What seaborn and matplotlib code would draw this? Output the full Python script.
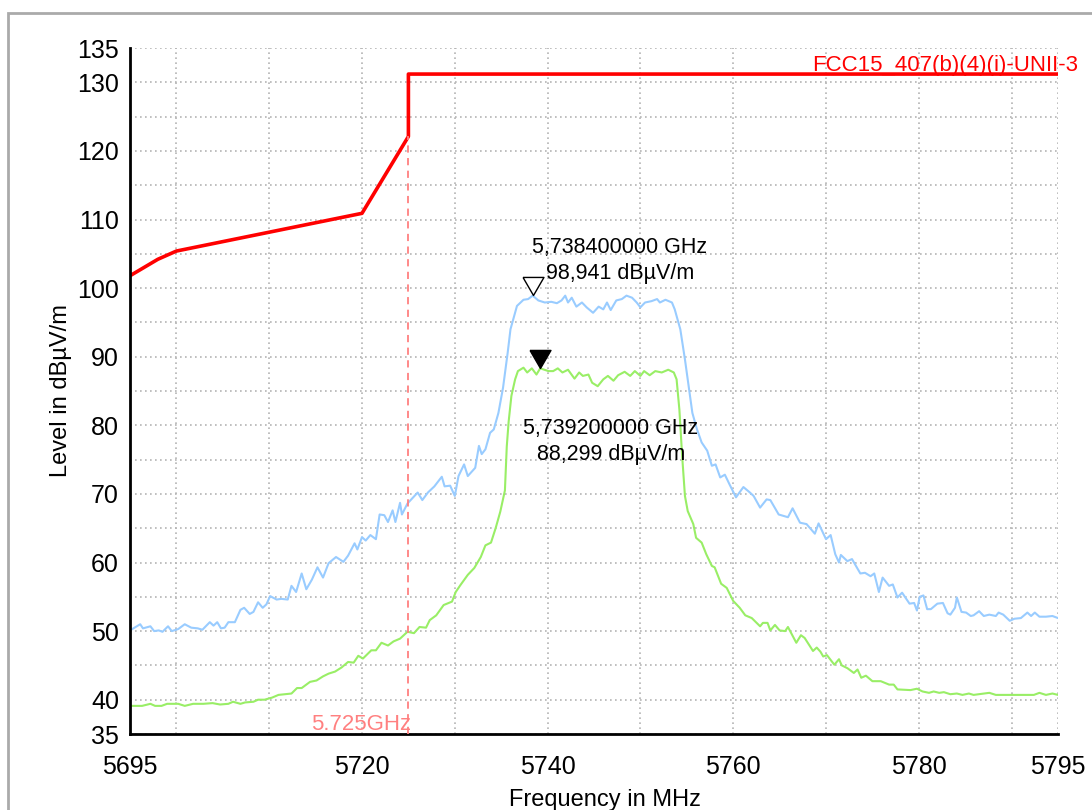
import matplotlib
matplotlib.use("Agg")
import matplotlib.pyplot as plt
from matplotlib.patches import Rectangle
import seaborn as sns

# peak trace (blue)
peak_f = [5695.0, 5696.1, 5696.4, 5697.2, 5697.6, 5698.1, 5698.5, 5699.1, 5699.5, 5700.2,
          5700.9, 5701.6, 5702.3, 5702.8, 5703.6, 5704.0, 5704.4, 5704.8, 5705.2, 5705.6,
          5706.3, 5706.9, 5707.3, 5707.9, 5708.3, 5708.8, 5709.3, 5709.7, 5710.1, 5710.8,
          5711.3, 5712.0, 5712.4, 5712.9, 5713.5, 5714.0, 5714.6, 5715.2, 5715.8, 5716.4,
          5717.2, 5718.0, 5718.5, 5719.2, 5719.5, 5720.0, 5720.4, 5720.9, 5721.5, 5721.9,
          5722.4, 5722.8, 5723.3, 5723.6, 5724.1, 5724.3, 5724.9, 5726.0, 5726.5, 5727.1,
          5727.8, 5728.6, 5728.9, 5729.5, 5730.0, 5730.4, 5731.0, 5731.4, 5732.2, 5732.6,
          5732.9, 5733.3, 5733.8, 5734.2, 5734.7, 5735.2, 5735.7, 5736.0, 5736.7, 5737.4,
          5737.9, 5738.4, 5739.0, 5739.7, 5740.4, 5741.0, 5741.5, 5741.9, 5742.2, 5742.6,
          5743.1, 5743.7, 5744.2, 5744.9, 5745.5, 5746.0, 5746.4, 5746.8, 5747.4, 5748.0,
          5748.5, 5749.1, 5749.6, 5750.0, 5750.5, 5751.2, 5751.8, 5752.1, 5752.7, 5753.4,
          5753.7, 5754.3, 5754.8, 5755.2, 5755.6, 5756.1, 5756.6, 5757.2, 5757.7, 5758.1,
          5758.6, 5759.1, 5759.6, 5760.3, 5761.1, 5761.8, 5762.2, 5762.9, 5763.6, 5764.0,
          5764.9, 5765.4, 5765.9, 5766.4, 5767.2, 5767.9, 5768.8, 5769.2, 5770.0, 5770.5,
          5771.0, 5771.4, 5771.6, 5772.3, 5772.8, 5773.7, 5774.2, 5774.8, 5775.2, 5775.7,
          5776.1, 5776.8, 5777.2, 5777.7, 5778.2, 5779.0, 5779.5, 5779.8, 5780.1, 5780.5,
          5780.9, 5781.3, 5782.0, 5782.6, 5783.1, 5783.4, 5783.9, 5784.1, 5784.6, 5785.1,
          5785.6, 5785.9, 5786.5, 5787.0, 5787.6, 5788.3, 5788.6, 5789.1, 5789.8, 5790.3,
          5791.0, 5791.7, 5792.1, 5792.5, 5793.0, 5793.7, 5794.4, 5795.0]
peak_v = [50.1, 51.0, 50.4, 50.7, 50.0, 50.1, 49.9, 50.7, 50.0, 50.3,
          51.0, 50.5, 50.4, 50.2, 51.3, 50.8, 51.3, 50.4, 50.5, 51.3,
          51.3, 53.1, 53.4, 52.5, 52.8, 54.2, 53.4, 53.9, 55.1, 54.6,
          54.7, 54.6, 56.6, 55.7, 58.4, 56.1, 57.5, 59.3, 57.8, 59.9,
          60.8, 60.1, 61.0, 62.8, 61.9, 63.7, 63.2, 64.0, 63.4, 67.0,
          66.9, 65.9, 67.6, 65.9, 68.7, 67.0, 68.6, 70.2, 69.1, 70.2,
          71.1, 72.5, 71.1, 71.2, 69.7, 72.6, 74.3, 72.6, 73.8, 77.0,
          75.8, 76.5, 78.9, 79.4, 81.8, 85.5, 90.6, 94.0, 97.4, 98.3,
          98.4, 98.9, 98.2, 97.9, 98.0, 97.8, 98.2, 98.9, 97.9, 98.6,
          97.3, 97.9, 97.2, 96.4, 97.3, 96.9, 97.9, 96.8, 98.2, 98.4,
          98.9, 98.6, 97.9, 97.2, 97.9, 98.1, 98.4, 97.9, 98.3, 97.9,
          96.9, 94.0, 89.6, 85.7, 81.8, 79.4, 77.5, 76.3, 74.1, 74.3,
          72.4, 72.8, 71.4, 69.5, 71.0, 70.2, 69.7, 68.0, 69.2, 69.1,
          67.0, 66.8, 66.6, 67.9, 65.8, 65.6, 64.2, 65.7, 63.4, 64.0,
          61.2, 60.0, 61.1, 60.2, 60.5, 58.4, 58.5, 58.0, 58.4, 55.7,
          57.8, 56.6, 56.8, 54.9, 55.6, 54.0, 54.1, 53.0, 55.0, 55.2,
          53.2, 53.2, 54.0, 54.1, 52.6, 52.4, 53.4, 54.9, 52.8, 52.7,
          52.2, 52.3, 52.9, 52.2, 52.4, 52.2, 52.7, 52.4, 51.5, 51.8,
          51.9, 52.7, 52.2, 52.7, 52.1, 52.1, 52.2, 51.9]

# average trace (green)
avg_f = [5695.0, 5696.3, 5697.2, 5697.7, 5698.4, 5699.0, 5700.2, 5700.9, 5701.8, 5702.9,
         5703.9, 5704.7, 5705.6, 5706.1, 5706.9, 5707.4, 5708.3, 5708.8, 5709.5, 5710.3,
         5711.0, 5711.7, 5712.4, 5713.0, 5713.5, 5714.4, 5715.1, 5715.8, 5716.4, 5717.1,
         5717.8, 5718.5, 5719.1, 5719.6, 5720.1, 5721.0, 5721.5, 5722.1, 5722.8, 5723.4,
         5724.1, 5724.9, 5725.6, 5726.2, 5726.9, 5727.3, 5728.0, 5728.8, 5729.7, 5730.1,
         5730.6, 5731.4, 5732.1, 5732.8, 5733.3, 5733.9, 5734.4, 5734.9, 5735.4, 5735.6,
         5735.8, 5736.1, 5736.5, 5736.8, 5737.4, 5737.8, 5738.3, 5738.8, 5739.2, 5740.1,
         5740.6, 5741.1, 5741.6, 5742.2, 5742.9, 5743.4, 5743.8, 5744.4, 5744.8, 5745.4,
         5746.0, 5746.5, 5747.1, 5747.6, 5748.3, 5748.9, 5749.4, 5750.0, 5750.4, 5751.0,
         5751.6, 5752.3, 5753.0, 5753.6, 5753.9, 5754.2, 5754.5, 5754.8, 5755.1, 5755.7,
         5756.0, 5756.6, 5757.1, 5757.7, 5758.0, 5758.7, 5759.3, 5760.0, 5760.7, 5761.3,
         5762.0, 5762.9, 5763.2, 5763.7, 5764.0, 5764.5, 5765.0, 5765.6, 5765.9, 5766.8,
         5767.3, 5767.7, 5768.6, 5769.0, 5769.4, 5769.7, 5770.1, 5770.9, 5771.4, 5771.7,
         5772.3, 5773.0, 5773.4, 5773.8, 5774.3, 5775.0, 5775.9, 5776.8, 5777.3, 5777.7,
         5779.1, 5779.8, 5780.4, 5781.1, 5781.6, 5782.2, 5782.7, 5783.4, 5784.1, 5784.7,
         5785.4, 5785.9, 5787.6, 5788.3, 5790.3, 5792.4, 5793.0, 5793.7, 5794.4, 5795.0]
avg_v = [39.1, 39.1, 39.4, 39.1, 39.1, 39.4, 39.4, 39.1, 39.4, 39.4,
         39.5, 39.3, 39.4, 39.7, 39.4, 39.6, 39.7, 40.0, 40.0, 40.3,
         40.7, 40.8, 40.9, 41.7, 41.7, 42.6, 42.8, 43.4, 43.8, 44.1,
         44.7, 45.5, 45.4, 46.4, 46.0, 47.2, 47.2, 48.3, 47.9, 48.5,
         48.9, 49.9, 49.7, 50.6, 50.5, 51.6, 52.3, 53.8, 54.3, 55.7,
         56.7, 58.2, 59.2, 60.8, 62.5, 62.9, 65.0, 67.4, 70.5, 76.9,
         80.5, 84.3, 86.7, 87.9, 88.4, 87.7, 88.3, 87.4, 88.3, 87.9,
         87.9, 88.3, 87.7, 88.1, 86.8, 87.7, 87.2, 87.4, 86.2, 85.7,
         86.7, 87.2, 86.5, 87.3, 87.8, 87.2, 87.9, 87.2, 87.9, 87.3,
         87.9, 87.7, 88.1, 87.7, 86.7, 82.3, 75.5, 69.7, 67.5, 65.6,
         63.6, 62.9, 61.2, 59.5, 59.3, 56.9, 56.3, 54.4, 53.4, 52.3,
         51.9, 50.7, 51.2, 51.2, 50.1, 50.9, 50.1, 50.0, 50.6, 48.3,
         49.4, 49.0, 47.1, 47.6, 47.0, 46.3, 46.5, 45.1, 45.9, 45.0,
         44.6, 43.9, 44.4, 43.2, 43.5, 42.7, 42.7, 42.2, 42.2, 41.5,
         41.4, 41.6, 41.2, 41.0, 41.2, 41.0, 41.1, 40.8, 40.9, 40.7,
         40.9, 40.7, 41.0, 40.7, 40.7, 40.7, 41.0, 40.7, 40.9, 40.7]

# FCC limit line
limit_f = [5695, 5696, 5698, 5700, 5720, 5725, 5725, 5795]
limit_v = [101.8, 102.6, 104.2, 105.4, 110.9, 122.1, 131.2, 131.2]
limit_name = "FCC15_407(b)(4)(i)-UNII-3"
band_edge = 5725
band_edge_label = "5.725GHz"

# markers
m1_f, m1_v = 5738.4, 98.941
m1_text = ["5,738400000 GHz", "98,941 dBµV/m"]
m2_f, m2_v = 5739.2, 88.299
m2_text = ["5,739200000 GHz", "88,299 dBµV/m"]

x_ticks = [5695, 5700, 5710, 5720, 5730, 5740, 5750, 5760, 5770, 5780, 5790, 5795]
x_labels = ["5695", "", "", "5720", "", "5740", "", "5760", "", "5780", "", "5795"]
y_ticks = list(range(35, 136, 5))
y_labels = [str(v) if (v % 10 == 0 or v in (35, 135)) else "" for v in y_ticks]

sns.set_theme(style="white")
plt.rcParams["font.family"] = ["Liberation Sans", "DejaVu Sans"]
plt.rcParams["text.color"] = "black"
plt.rcParams["axes.labelcolor"] = "black"

fig = plt.figure(figsize=(10.92, 8.10), dpi=100)
ax = fig.add_axes([130 / 1092, 76 / 810, 928 / 1092, 686 / 810])

sns.lineplot(x=peak_f, y=peak_v, color="#99ccff", lw=1.5, estimator=None, sort=False, ax=ax)
sns.lineplot(x=avg_f, y=avg_v, color="#99ee66", lw=1.5, estimator=None, sort=False, ax=ax)
ax.plot([band_edge, band_edge], [35, limit_v[5]], color="#ff8080", lw=1.3,
        dashes=(4, 3), zorder=3)
sns.lineplot(x=limit_f, y=limit_v, color="#ff0000", lw=2.6, estimator=None, sort=False, ax=ax)

tri = [(-0.58, 1.0), (0.58, 1.0), (0.0, 0.0), (-0.58, 1.0)]
ax.plot([m1_f], [m1_v], marker=tri, ms=26, mfc="white", mec="black", mew=1.0,
        ls="none", zorder=6, clip_on=False)
ax.plot([m2_f], [m2_v], marker=tri, ms=26, mfc="black", mec="black", mew=1.0,
        ls="none", zorder=6)

ax.text(5747.8, 105.85, m1_text[0], ha="center", va="center", fontsize=15.5)
ax.text(5747.8, 102.2, m1_text[1], ha="center", va="center", fontsize=15.5)
ax.text(5746.8, 79.6, m2_text[0], ha="center", va="center", fontsize=15.5)
ax.text(5746.8, 75.7, m2_text[1], ha="center", va="center", fontsize=15.5)

ax.text(5797.2, 131.7, limit_name, color="#ff0000", ha="right", va="baseline",
        fontsize=16, clip_on=False)
ax.text(5725.3, 35.6, band_edge_label, color="#ff8080", ha="right", va="baseline",
        fontsize=16)

ax.set_xlim(5695, 5795)
ax.set_ylim(35, 135)
ax.set_xticks(x_ticks)
ax.set_xticklabels(x_labels)
ax.set_yticks(y_ticks)
ax.set_yticklabels(y_labels)
ax.grid(True, color="#b4b4b4", lw=1.2, linestyle=(0, (1, 2)))
ax.set_axisbelow(True)

for side in ["top", "right"]:
    ax.spines[side].set_visible(False)
for side in ["left", "bottom"]:
    ax.spines[side].set_color("black")
    ax.spines[side].set_linewidth(2)
ax.tick_params(axis="both", direction="inout", length=10, width=2, colors="black",
               labelsize=18)
ax.tick_params(axis="x", pad=10)
ax.tick_params(axis="y", pad=3)

ax.set_xlabel("Frequency in MHz", fontsize=17)
ax.set_ylabel("Level in dBµV/m", fontsize=17)
ax.xaxis.set_label_coords(0.512, -0.080)
ax.yaxis.set_label_coords(-0.063, 0.501)

fig.patches.append(Rectangle((8 / 1092, -0.05), 1.1, 1 - 13 / 810 + 0.05, fill=False,
                             edgecolor="#aaaaaa", lw=2, transform=fig.transFigure,
                             figure=fig))

fig.savefig("out.png", dpi=100)
